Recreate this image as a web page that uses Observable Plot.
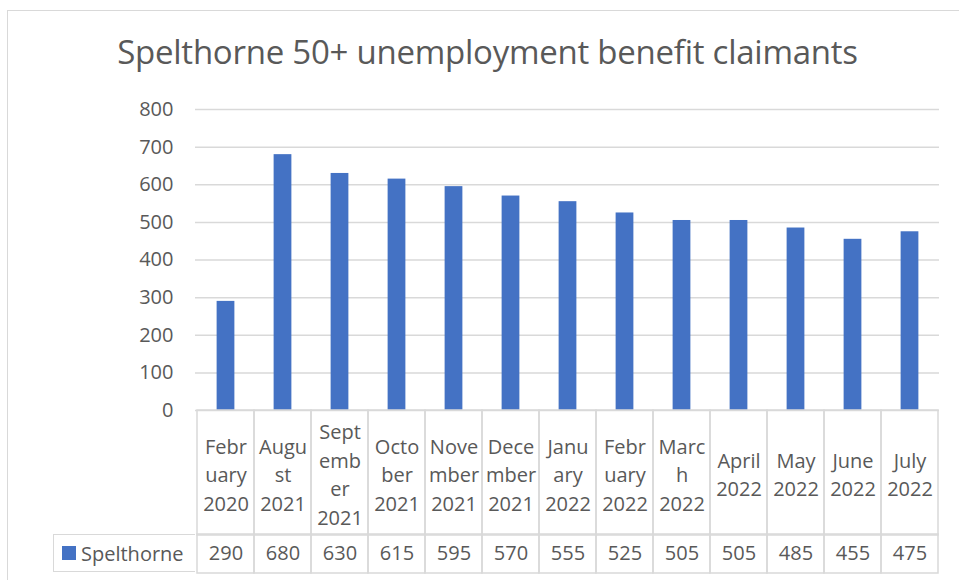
<!DOCTYPE html>
<html>
<head>
<meta charset="utf-8">
<script src="https://cdn.jsdelivr.net/npm/d3@7"></script>
<script src="https://cdn.jsdelivr.net/npm/@observablehq/plot@0.6"></script>
<style>
  html, body { margin: 0; padding: 0; background: #fff; overflow: hidden; }
  #root { position: relative; width: 959px; height: 580px; overflow: hidden; font-family: "Open Sans", sans-serif; color: #595959; }
  #frame { position: absolute; left: 7px; top: 10px; width: 2000px; height: 2000px; border: 1.5px solid #d9d9d9; }
  #title { position: absolute; left: 0; top: 29px; width: 975px; text-align: center; font-size: 33px; font-weight: 400; letter-spacing: -0.25px; color: #595959; white-space: nowrap; }
  .abs { position: absolute; left: 0; }
  #legendCell { position: absolute; left: 53px; top: 534px; width: 142px; height: 38px; box-sizing: border-box; border: 1.5px solid #d9d9d9; border-right: none; display: flex; align-items: center; font-size: 20px; }
  #legendCell .sw { width: 14px; height: 14px; background: #4472C4; margin-left: 8px; margin-right: 5px; }
</style>
</head>
<body>
<div id="root">
  <div id="frame"></div>
  <div id="title"></div>
  <div id="bars" class="abs" style="top:0"></div>
  <div id="hdr" class="abs" style="top:409px"></div>
  <div id="vals" class="abs" style="top:533px"></div>
  <div id="legendCell"><div class="sw"></div><span id="legendName"></span></div>
</div>
<script>
const title = "Spelthorne 50+ unemployment benefit claimants";
const seriesName = "Spelthorne";
const categories = ["Feb 2020","Aug 2021","Sep 2021","Oct 2021","Nov 2021","Dec 2021","Jan 2022","Feb 2022","Mar 2022","Apr 2022","May 2022","Jun 2022","Jul 2022"];
const tickLabels = ["Febr\nuary\n2020","Augu\nst\n2021","Sept\nemb\ner\n2021","Octo\nber\n2021","Nove\nmber\n2021","Dece\nmber\n2021","Janu\nary\n2022","Febr\nuary\n2022","Marc\nh\n2022","April\n2022","May\n2022","June\n2022","July\n2022"];
const values = [290, 680, 630, 615, 595, 570, 555, 525, 505, 505, 485, 455, 475];
const yTicks = [0, 100, 200, 300, 400, 500, 600, 700, 800];

const data = categories.map((c, i) => ({cat: c, label: tickLabels[i], value: values[i]}));

document.getElementById("title").textContent = title;
document.getElementById("legendName").textContent = seriesName;

const W = 959, ML = 195, MR = 20;
const grid = "#d9d9d9";
const textColor = "#595959";
const font = "Open Sans, sans-serif";
const xScale = {domain: categories, padding: 0, axis: null};
const step = (W - ML - MR) / categories.length;
const barW = 18;

const bars = Plot.plot({
  width: W, height: 420,
  marginLeft: ML, marginRight: MR, marginTop: 109, marginBottom: 10,
  style: {fontFamily: font, fontSize: "20px", color: textColor, background: "transparent", overflow: "visible"},
  x: xScale,
  y: {domain: [0, 800], ticks: yTicks, tickFormat: d => String(d)},
  marks: [
    Plot.gridY(yTicks, {stroke: grid, strokeOpacity: 1, strokeWidth: 1.5}),
    Plot.axisY(yTicks, {tickSize: 0, tickPadding: 22, label: null, fill: textColor, fontSize: 20}),
    Plot.barY(data, {x: "cat", y: "value", fill: "#4472C4", insetLeft: (step - barW) / 2, insetRight: (step - barW) / 2})
  ]
});
document.getElementById("bars").appendChild(bars);

const hdr = Plot.plot({
  width: W, height: 127,
  marginLeft: ML, marginRight: MR, marginTop: 1, marginBottom: 1,
  style: {fontFamily: font, fontSize: "20px", color: textColor, background: "transparent", overflow: "visible"},
  x: xScale,
  marks: [
    Plot.cell(data, {x: "cat", fill: "none", stroke: grid, strokeWidth: 1.5}),
    Plot.text(data, {x: "cat", text: "label", fill: textColor, fontSize: 20, lineHeight: 1.43, frameAnchor: "middle"})
  ]
});
document.getElementById("hdr").appendChild(hdr);

const vals = Plot.plot({
  width: W, height: 41,
  marginLeft: ML, marginRight: MR, marginTop: 1, marginBottom: 1,
  style: {fontFamily: font, fontSize: "20px", color: textColor, background: "transparent", overflow: "visible"},
  x: xScale,
  marks: [
    Plot.cell(data, {x: "cat", fill: "none", stroke: grid, strokeWidth: 1.5}),
    Plot.text(data, {x: "cat", text: d => String(d.value), fill: textColor, fontSize: 20, frameAnchor: "middle"})
  ]
});
document.getElementById("vals").appendChild(vals);
</script>
</body>
</html>
